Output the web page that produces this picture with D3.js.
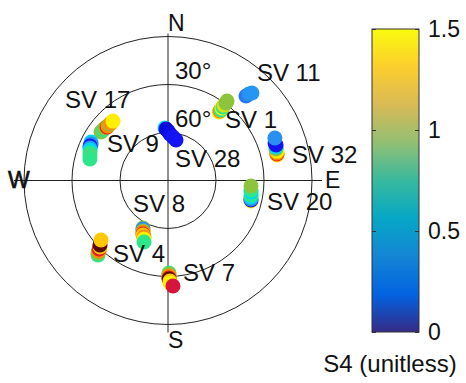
<!DOCTYPE html>
<html>
<head>
<meta charset="utf-8">
<script src="https://cdn.jsdelivr.net/npm/d3@7"></script>
<style>
body { margin: 0; background: #fff; }
text { font-family: "Liberation Sans", Arial, sans-serif; fill: #111; }
</style>
</head>
<body>
<div id="chart"></div>
<script>
// tracks: [azimuth deg, elevation deg, S4]
var sv11 = [[42.7, 18.1, 0.38], [43.1, 15.9, 0.40], [43.8, 14.2, 0.41]];
var sv1 = [[36.7, 36.6, 0.85], [36.8, 35.8, 1.0], [36.9, 34.9, 0.6], [36.7, 33.5, 0.85],
	[36.8, 32.6, 0.6], [36.6, 31.3, 0.8], [36.8, 29.5, 0.7], [36.6, 28.1, 0.7]];
var sv32 = [[76.8, 20.0, 0.85], [76.3, 19.9, 1.1], [75.8, 19.8, 1.0], [74.9, 19.4, 0.85],
	[73.7, 19.7, 0.7], [72.8, 19.3, 0.5], [71.8, 18.9, 0.3], [70.7, 19.1, 0.28], [68.3, 18.1, 0.4]];
var sv20 = [[103.9, 36.6, 0.85], [103.2, 36.7, 0.3], [102.6, 36.9, 0.4], [101.2, 37.1, 0.5],
	[99.9, 37.3, 0.6], [97.9, 37.6, 0.5], [96.5, 37.8, 0.6], [93.8, 38.0, 0.7]];
var sv28 = [[356.7, 57.1, 0.5], [357.8, 57.8, 0.2], [0, 59.1, 0.2], [2.5, 60.9, 0.25],
	[6.6, 62.6, 0.3], [11.2, 64.2, 0.3]];
var sv17 = [[305.9, 38.3, 0.7], [307.8, 38.6, 0.62], [309.8, 38.8, 0.7], [311.3, 39.3, 1.1],
	[312.3, 39.3, 1.0], [314.2, 39.4, 0.7], [315.3, 39.4, 1.0], [317.2, 39.4, 0.85]];
var sv9 = [[296.6, 36.2, 0.5], [295.4, 36.8, 0.4], [293.9, 36.7, 0.3], [292.6, 37.2, 0.42],
	[291.4, 37.7, 0.5], [289.4, 38.3, 0.6], [287.4, 38.9, 0.62], [285.4, 39.4, 0.6]];
var sv4 = [[223.2, 26.1, 0.6], [224.0, 27.0, 0.7], [224.4, 28.4, 1.0], [225.2, 29.3, 1.15],
	[225.6, 30.6, 0.92], [226.5, 31.4, 1.35], [228.4, 34.0, 0.92]];
var sv8 = [[207.8, 56.4, 0.7], [207.3, 55.9, 0.4], [206.3, 54.8, 0.68], [205.9, 54.2, 1.0],
	[205.1, 53.1, 1.1], [204.6, 52.5, 0.92], [203.0, 51.6, 1.0], [202.3, 50.5, 0.85], [201.3, 48.7, 0.6]];
var sv7 = [[179.4, 32.2, 0.6], [179.4, 31.6, 0.7], [179.4, 30.3, 1.0], [179.4, 29.1, 1.1],
	[179.4, 28.4, 1.35], [178.9, 27.2, 0.92], [178.9, 25.9, 0.85], [177.3, 24.0, 1.2]];

var labelNames = ["SV 11", "SV 17", "SV 1", "SV 9", "SV 32", "SV 28", "SV 8", "SV 20", "SV 4", "SV 7"];
var labelAz = [41.8, 305.1, 47.4, 295, 82.0, 27.4, 228, 106.6, 214, 171.5];
var labelEl = [6.6, 11.3, 41.6, 47.9, 11.7, 80.5, 60.6, 25.4, 28.6, 26.5];

var rings = [0, 30, 60];
var ringLabels = [30, 60];
var cbTicks = [0, 0.5, 1, 1.5];

var tracks = [sv11, sv1, sv32, sv20, sv28, sv17, sv9, sv4, sv8, sv7];

var width = 466, height = 383;
var cx = 168, cy = 180.5, R = 144;

var svg = d3.select("#chart").append("svg")
	.attr("width", width)
	.attr("height", height);

var rScale = d3.scaleLinear().domain([90, 0]).range([0, R]);

function px(az, el) { return cx + rScale(el) * Math.sin(az * Math.PI / 180); }
function py(az, el) { return cy - rScale(el) * Math.cos(az * Math.PI / 180); }

// colours used for the markers
var dotColor = d3.scaleLinear()
	.domain([0.2, 0.3, 0.4, 0.5, 0.6, 0.7, 0.85, 0.92, 1.0, 1.1, 1.2, 1.35])
	.range(["#0a0ad8", "#1414f5", "#2a8ff5", "#00d8f0", "#2ee68a", "#8cc43c",
		"#fff000", "#ffc800", "#ff8c00", "#f01e1e", "#d7143c", "#5a0808"])
	.clamp(true);

// grid
svg.selectAll("circle.ring")
	.data(rings)
	.enter()
	.append("circle")
	.attr("class", "ring")
	.attr("cx", cx)
	.attr("cy", cy)
	.attr("r", function (d) { return rScale(d); })
	.style("fill", "none")
	.style("stroke", "#222")
	.style("stroke-width", 1);

svg.append("line")
	.attr("x1", cx - R - 10).attr("x2", cx + R + 10)
	.attr("y1", cy).attr("y2", cy)
	.style("stroke", "#222").style("stroke-width", 1);
svg.append("line")
	.attr("x1", cx).attr("x2", cx)
	.attr("y1", cy - R - 3).attr("y2", cy + R + 8)
	.style("stroke", "#222").style("stroke-width", 1);

// compass letters
svg.append("text").attr("x", cx).attr("y", cy - R - 6).style("font-size", "23px").text("N");
svg.append("text").attr("x", cx).attr("y", cy + R + 23).style("font-size", "23px").text("S");
svg.append("text").attr("x", cx - R - 16).attr("y", cy + 7).style("font-size", "23px")
	.style("stroke", "#111").style("stroke-width", 0.6).text("W");
svg.append("text").attr("x", cx + R + 13).attr("y", cy + 7).style("font-size", "23px").text("E");

// tracks
tracks.forEach(function (t) {
	svg.append("g").selectAll("circle")
		.data(t)
		.enter()
		.append("circle")
		.attr("cx", function (d) { return px(d[0], d[1]); })
		.attr("cy", function (d) { return py(d[0], d[1]); })
		.attr("r", 7.5)
		.style("fill", function (d) { return dotColor(d[2]); });
});

// ring labels
svg.selectAll("text.ringlab")
	.data(ringLabels)
	.enter()
	.append("text")
	.attr("class", "ringlab")
	.attr("x", cx + 7)
	.attr("y", function (d) { return cy - rScale(d) - 6; })
	.style("font-size", "24px")
	.text(function (d) { return d + "\u00b0"; });

// satellite labels
svg.selectAll("text.svlab")
	.data(labelNames)
	.enter()
	.append("text")
	.attr("class", "svlab")
	.attr("x", function (d, i) { return px(labelAz[i], labelEl[i]); })
	.attr("y", function (d, i) { return py(labelAz[i], labelEl[i]); })
	.style("font-size", "24px")
	.text(function (d) { return d; });

// colorbar (parula)
var parula = ["#352a87", "#0363e1", "#1485d4", "#06a7c6", "#38b99e",
	"#92bf73", "#d9ba56", "#fcce2e", "#f9fb0e"];
var cbX = 372, cbW = 47, cbTop = 29, cbBottom = 332;
var cbScale = d3.scaleLinear().domain([0, 1.5]).range([cbBottom, cbTop]);

var grad = svg.append("defs").append("linearGradient")
	.attr("id", "parula")
	.attr("x1", 0).attr("y1", 1).attr("x2", 0).attr("y2", 0);
grad.selectAll("stop")
	.data(parula)
	.enter()
	.append("stop")
	.attr("offset", function (d, i) { return i / (parula.length - 1); })
	.attr("stop-color", function (d) { return d; });

svg.append("rect")
	.attr("x", cbX).attr("y", cbTop)
	.attr("width", cbW).attr("height", cbBottom - cbTop)
	.style("fill", "url(#parula)")
	.style("stroke", "#333")
	.style("stroke-width", 1);

var cbAxis = svg.append("g")
	.attr("transform", "translate(" + (cbX + cbW) + ",0)")
	.call(d3.axisRight(cbScale).tickValues(cbTicks).tickSize(-4).tickPadding(9)
		.tickFormat(function (d) { return String(d); }));
cbAxis.select(".domain").remove();
cbAxis.selectAll("line").style("stroke", "#333");
cbAxis.selectAll("text")
	.style("font-size", "23px")
	.style("font-family", "'Liberation Sans', Arial, sans-serif")
	.style("fill", "#111");

var cbAxisL = svg.append("g")
	.attr("transform", "translate(" + cbX + ",0)")
	.call(d3.axisLeft(cbScale).tickValues(cbTicks).tickSize(-4).tickFormat(""));
cbAxisL.select(".domain").remove();
cbAxisL.selectAll("line").style("stroke", "#333");

svg.append("text")
	.attr("x", 390)
	.attr("y", 372)
	.attr("text-anchor", "middle")
	.style("font-size", "24px")
	.text("S4 (unitless)");
</script>
</body>
</html>
